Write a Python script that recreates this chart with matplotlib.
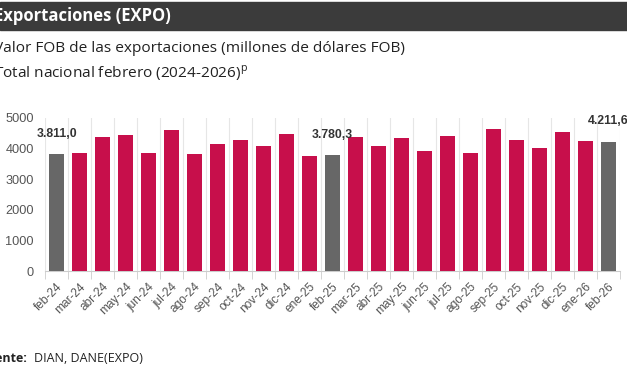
import numpy as np
from matplotlib import pyplot as plt
from matplotlib.patches import Rectangle

# meses y valores (millones de dolares FOB)
meses = ['feb-24', 'mar-24', 'abr-24', 'may-24', 'jun-24', 'jul-24', 'ago-24',
         'sep-24', 'oct-24', 'nov-24', 'dic-24', 'ene-25', 'feb-25', 'mar-25',
         'abr-25', 'may-25', 'jun-25', 'jul-25', 'ago-25', 'sep-25', 'oct-25',
         'nov-25', 'dic-25', 'ene-26', 'feb-26']
valores = [3811.0, 3850, 4385, 4440, 3840, 4605, 3815, 4145, 4285, 4100, 4475,
           3750, 3780.3, 4375, 4100, 4340, 3935, 4410, 3850, 4630, 4275, 4005,
           4530, 4235, 4211.6]
destacados = {0: '3.811,0', 12: '3.780,3', 24: '4.211,6'}
yticks = [0, 1000, 2000, 3000, 4000, 5000]

rojo = '#C70F4B'
gris = '#676767'

plt.rcParams['font.family'] = ['Open Sans', 'DejaVu Sans']

fig = plt.figure(figsize=(6.27, 3.76), dpi=100)
W, H = 627, 376

# banda del titulo
fig.patches.append(Rectangle((0, 1 - 30 / H), 1, 28 / H, transform=fig.transFigure,
                             color='#3b3b3b', zorder=0))
fig.text(-6 / W, 1 - 16 / H, 'Exportaciones (EXPO)', color='white', fontsize=12,
         fontweight='bold', va='center', ha='left')
fig.text(-6 / W, 1 - 48 / H, 'Valor FOB de las exportaciones (millones de dólares FOB)',
         color='#222222', fontsize=11.1, va='center', ha='left')
fig.text(-6 / W, 1 - 73 / H, 'Total nacional febrero (2024-2026)$^{\\mathregular{p}}$',
         color='#222222', fontsize=11.1, va='center', ha='left')
fig.text(-19 / W, 1 - 358 / H, 'Fuente:', color='#222222', fontsize=9,
         fontweight='bold', va='center', ha='left')
fig.text(34 / W, 1 - 358 / H, 'DIAN, DANE(EXPO)', color='#222222', fontsize=9,
         va='center', ha='left')

ax = fig.add_axes([45 / W, 1 - 271 / H, 575 / W, 153 / H])
x = np.arange(len(meses))
colores = [gris if i in destacados else rojo for i in range(len(meses))]
ax.bar(x, valores, width=0.64, color=colores, zorder=3)

for i, txt in destacados.items():
    ax.text(x[i], valores[i] + 480, txt, ha='center', va='bottom', fontsize=8.8,
            fontweight='bold', color='#333333', family='Liberation Sans', zorder=4,
            clip_on=False)

ax.set_xlim(-0.5, len(meses) - 0.5)
ax.set_ylim(0, 5000)
ax.set_yticks(yticks)
ax.set_yticklabels([str(v) for v in yticks], family='Liberation Sans', fontsize=9.2,
                   color='#555555')
ax.set_xticks(x)
ax.set_xticklabels(meses, rotation=45, ha='right', rotation_mode='anchor',
                   fontsize=8.6, color='#555555', family='Liberation Sans')
ax.set_xticks(np.arange(-0.5, len(meses)), minor=True)
ax.tick_params(axis='x', which='major', length=0, pad=7)
ax.tick_params(axis='x', which='minor', length=6, color='#cccccc')
ax.tick_params(axis='y', length=0, pad=8)
ax.grid(axis='x', which='minor', color='#e6e6e6', lw=0.8, zorder=0)
for s in ['top', 'right', 'left']:
    ax.spines[s].set_visible(False)
ax.spines['bottom'].set_color('#cccccc')

plt.savefig('out.png', dpi=100)
